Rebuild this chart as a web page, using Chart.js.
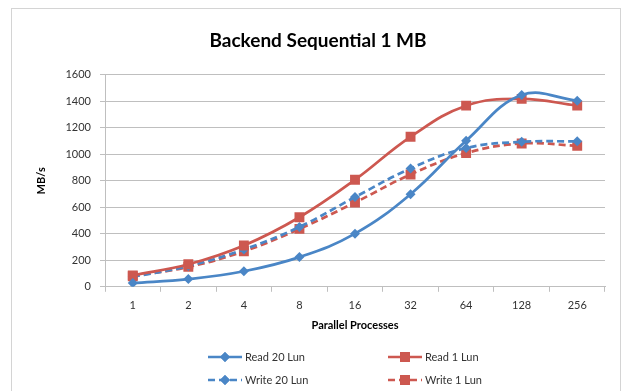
<!DOCTYPE html>
<html>
<head>
<meta charset="utf-8">
<script src="https://cdn.jsdelivr.net/npm/chart.js@4"></script>
<style>
  html, body { margin: 0; padding: 0; background: #fff; }
  #wrap { position: relative; width: 623px; height: 391px; overflow: hidden; }
  #frame { position: absolute; left: 11px; top: 8px; width: 608px; height: 420px; border: 1px solid #d4d4d4; pointer-events: none; }
  canvas { position: absolute; left: 0; top: 0; }
</style>
</head>
<body>
<div id="wrap">
  <canvas id="c" width="623" height="391"></canvas>
  <div id="frame"></div>
</div>
<script>
const categories = ['1', '2', '4', '8', '16', '32', '64', '128', '256'];
const read20Lun  = [28, 58, 117, 224, 401, 699, 1102, 1447, 1405];
const read1Lun   = [86, 170, 312, 525, 808, 1132, 1367, 1418, 1367];
const write20Lun = [75, 157, 282, 452, 677, 893, 1047, 1094, 1098];
const write1Lun  = [80, 150, 268, 437, 636, 848, 1009, 1082, 1064];
const yTicks = [0, 200, 400, 600, 800, 1000, 1200, 1400, 1600];

const BLUE = '#4A86C6';
const RED = '#CD5850';
const FONT = 'Lato, "Open Sans", sans-serif';

function ds(label, data, color, style, dashed) {
  return {
    label, data,
    borderColor: color, backgroundColor: color,
    pointBackgroundColor: color, pointBorderColor: color,
    pointStyle: style,
    pointRadius: style === 'rect' ? 7 : 5,
    pointBorderWidth: 0,
    borderWidth: 2.7,
    borderDash: dashed ? [7, 4] : [],
    tension: 0.4,
    fill: false
  };
}

const legendPlugin = {
  id: 'customLegend',
  afterDraw(chart) {
    const ctx = chart.ctx;
    const pos = [
      { x: 208, y: 357 }, { x: 388, y: 357 },
      { x: 208, y: 380 }, { x: 388, y: 380 }
    ];
    chart.data.datasets.forEach((d, i) => {
      const p = pos[i];
      const len = 34;
      ctx.save();
      ctx.strokeStyle = d.borderColor;
      ctx.lineWidth = 2.5;
      ctx.setLineDash(d.borderDash);
      ctx.beginPath();
      ctx.moveTo(p.x, p.y);
      ctx.lineTo(p.x + len, p.y);
      ctx.stroke();
      ctx.setLineDash([]);
      ctx.fillStyle = d.borderColor;
      Chart.helpers.drawPoint(ctx, { pointStyle: d.pointStyle, radius: d.pointRadius, borderWidth: 0 }, p.x + len / 2, p.y);
      ctx.fill();
      ctx.fillStyle = '#333';
      ctx.font = '11px ' + FONT;
      ctx.textBaseline = 'middle';
      ctx.textAlign = 'left';
      ctx.fillText(d.label, p.x + len + 3, p.y + 0.5);
      ctx.restore();
    });
  }
};

new Chart(document.getElementById('c'), {
  type: 'line',
  data: {
    labels: categories,
    datasets: [
      ds('Read 20 Lun', read20Lun, BLUE, 'rectRot', false),
      ds('Read 1 Lun', read1Lun, RED, 'rect', false),
      ds('Write 20 Lun', write20Lun, BLUE, 'rectRot', true),
      ds('Write 1 Lun', write1Lun, RED, 'rect', true)
    ]
  },
  plugins: [legendPlugin],
  options: {
    responsive: false,
    animation: false,
    layout: { padding: { left: 31, right: 18, top: 0, bottom: 55 } },
    plugins: {
      legend: { display: false },
      tooltip: { enabled: false },
      title: {
        display: true,
        text: 'Backend Sequential 1 MB',
        color: '#000',
        font: { family: FONT, size: 19, weight: 'bold' },
        padding: { top: 29, bottom: 23 }
      }
    },
    scales: {
      x: {
        offset: true,
        grid: { display: true, drawOnChartArea: false, offset: true, tickLength: 5, color: '#bfbfbf' },
        border: { color: '#bfbfbf' },
        ticks: { color: '#333', padding: 8, font: { family: FONT, size: 11, lineHeight: 1 } },
        title: { display: true, text: 'Parallel Processes', color: '#000', font: { family: FONT, size: 11, weight: 'bold' }, padding: { top: 0, bottom: 4 } }
      },
      y: {
        min: 0, max: 1600,
        afterBuildTicks(scale) { scale.ticks = yTicks.map(v => ({ value: v })); },
        afterFit(scale) { scale.width = 74; },
        grid: { color: '#bfbfbf', tickLength: 5, lineWidth: 1 },
        border: { color: '#bfbfbf' },
        ticks: { color: '#333', padding: 9, font: { family: FONT, size: 11 }, callback: v => String(v) },
        title: { display: true, text: 'MB/s', color: '#000', font: { family: FONT, size: 11, weight: 'bold' } }
      }
    }
  }
});
</script>
</body>
</html>
